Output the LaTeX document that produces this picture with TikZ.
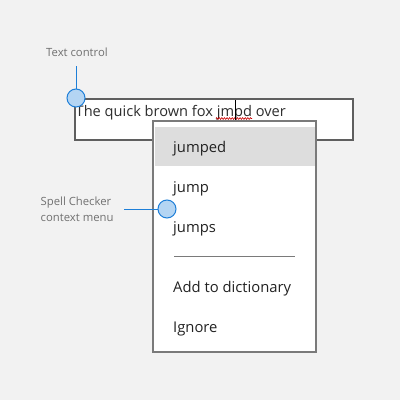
\documentclass[tikz,border=0pt]{standalone}
\usepackage{fontspec}
\setmainfont{Open Sans}
\usetikzlibrary{decorations.pathmorphing}
\definecolor{bg}{HTML}{F2F2F2}
\definecolor{boxline}{HTML}{5F5F5F}
\definecolor{menuline}{HTML}{7A7A7A}
\definecolor{hl}{HTML}{DDDDDD}
\definecolor{callfill}{HTML}{B4D5F3}
\definecolor{callline}{HTML}{1E7FD8}
\definecolor{lbl}{HTML}{707070}
\definecolor{itm}{HTML}{222222}
\tikzset{
  callout/.style={circle, draw=callline, fill=callfill, line width=1pt, minimum size=18pt, inner sep=0pt},
  leader/.style={draw=callline, line width=1pt},
  menuitem/.style={anchor=west, inner sep=0pt, text=itm, font=\fontsize{14.8}{17}\selectfont},
  annot/.style={inner sep=0pt, text=lbl, font=\fontsize{11.3}{15.5}\selectfont}
}
\begin{document}
\begin{tikzpicture}[x=1pt,y=-1pt]
\useasboundingbox (0,0) rectangle (400,400);
\fill[bg] (0,0) rectangle (400,400);
% text box
\draw[boxline, line width=1.6pt, fill=white] (75,99) rectangle (353,140);
\node[anchor=west, inner sep=0pt, text=itm!95, font=\fontsize{14.6}{17}\selectfont] (sent) at (75.5,113) {The quick brown fox jmpd over};
\draw[red!80!black, line width=0.6pt, decorate, decoration={zigzag, amplitude=0.9pt, segment length=2.6pt}] (216,118.5) -- (252,118.5);
\draw[black, line width=0.9pt] (235,100) -- (235,120);
% menu
\draw[menuline, line width=1.6pt, fill=white] (153,121) rectangle (316,352);
\fill[hl] (155,127) rectangle (315,166);
\node[menuitem] (m1) at (173,149) {jumped};
\node[menuitem] (m2) at (173,189) {jump};
\node[menuitem] (m3) at (173,229) {jumps};
\coordinate (s1) at (174,256.5);
\coordinate (s2) at (295,256.5);
\draw[menuline, line width=0.8pt] (s1) -- (s2);
\node[menuitem] (m4) at (173,289) {Add to dictionary};
\node[menuitem] (m5) at (173,329) {Ignore};
% callouts
\node[annot] (t1) at (77,52) {Text control};
\node[callout] (c1) at (76,98) {};
\coordinate (l1) at (76,66);
\draw[leader] (l1) -- (c1);
\node[annot, align=left, anchor=west] (t2) at (40.5,209.5) {Spell Checker\\context menu};
\node[callout] (c2) at (167,209) {};
\coordinate (l2) at (124,209);
\draw[leader] (l2) -- (c2);
\end{tikzpicture}
\end{document}
